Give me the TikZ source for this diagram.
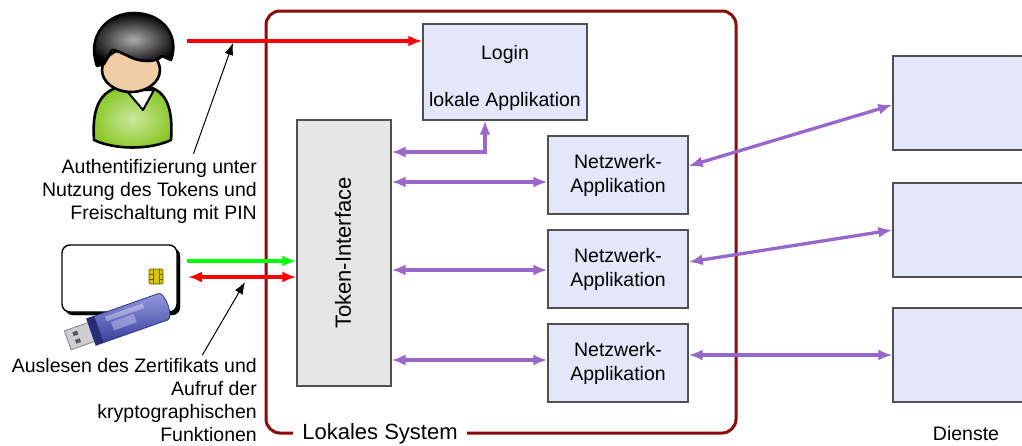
\documentclass[tikz,border=0pt]{standalone}
\usepackage{fontspec}
\setmainfont{Liberation Sans}
\usetikzlibrary{arrows.meta,calc}
\definecolor{framered}{RGB}{140,10,10}
\definecolor{pur}{RGB}{153,102,204}
\definecolor{lav}{RGB}{230,230,250}
\definecolor{tokgray}{RGB}{230,230,230}
\definecolor{edgegray}{RGB}{80,80,80}
\definecolor{skin}{RGB}{240,205,165}
\definecolor{shirt}{RGB}{140,200,40}
\definecolor{chipgold}{RGB}{215,195,0}
\definecolor{chipedge}{RGB}{110,95,0}
\definecolor{usbblue}{RGB}{65,75,195}
\definecolor{metal}{RGB}{205,205,210}

\begin{document}
\begin{tikzpicture}[x=1pt,y=-1pt,
  txt/.style={font=\fontsize{19.5}{23}\selectfont, inner sep=1pt},
  bigtxt/.style={font=\fontsize{22}{24}\selectfont, inner sep=1pt},
  appbox/.style={draw=edgegray, line width=1.3pt, fill=lav, inner sep=0pt},
  tokbox/.style={draw=edgegray, line width=1.3pt, fill=tokgray, inner sep=0pt},
  netbox/.style={appbox, minimum width=140pt, minimum height=78pt,
    font=\fontsize{19.5}{24}\selectfont, align=center},
  dienstbox/.style={appbox, minimum width=146pt, minimum height=94pt},
  purarrow/.style={draw=pur, line width=3.3pt, {Latex[length=14pt,width=11pt]}-{Latex[length=14pt,width=11pt]}},
  redarrow/.style={draw=red, line width=3.5pt, -{Latex[length=14pt,width=11pt]}},
  redboth/.style={draw=red, line width=3.5pt, {Latex[length=14pt,width=11pt]}-{Latex[length=14pt,width=11pt]}},
  greenarrow/.style={draw=green, line width=3.5pt, -{Latex[length=14pt,width=11pt]}},
  notearrow/.style={draw=black, line width=1pt, -{Latex[length=12pt,width=9pt]}},
  outline/.style={draw=black, line width=2.6pt, line join=round}
]
\useasboundingbox (0,0) rectangle (1022,445);
\clip (0,0) rectangle (1022,445);

% local system frame
\node[draw=framered, line width=3pt, rounded corners=14pt,
      minimum width=470pt, minimum height=422pt, inner sep=0pt] (lokal) at (501,222) {};
\node[bigtxt, fill=white, inner xsep=9pt, inner ysep=1pt] (lokaltitle) at (380,434) {Lokales System};

% applications
\node[appbox, minimum width=164pt, minimum height=96pt] (login) at (505,72) {};
\node[txt] (logintxt) at (505,54) {Login};
\node[txt] (lokapp) at (505,101) {lokale Applikation};

\node[tokbox, minimum width=94pt, minimum height=266pt] (tok) at (344,253) {};
\node[rotate=90, bigtxt] (toktxt) at (343,253) {Token-Interface};

\node[netbox] (n1) at (618,175) {Netzwerk-\\Applikation};
\node[netbox] (n2) at (618,269) {Netzwerk-\\Applikation};
\node[netbox] (n3) at (618,363) {Netzwerk-\\Applikation};

% services
\node[dienstbox] (d1) at (966,103) {};
\node[dienstbox] (d2) at (966,230) {};
\node[dienstbox] (d3) at (966,355) {};
\node[txt] (dienste) at (966,434) {Dienste};

% purple connections
\coordinate (lg) at ([xshift=-20pt]login.south);
\coordinate (tk) at ([yshift=101pt]tok.east);
\draw[purarrow] (tk) -| (lg);
\coordinate (n1a) at ([yshift=-7pt]n1.west);
\coordinate (n2a) at ([yshift=-1pt]n2.west);
\coordinate (n3a) at ([yshift=3pt]n3.west);
\draw[purarrow] (tok.east |- n1a) -- (n1a);
\draw[purarrow] (tok.east |- n2a) -- (n2a);
\draw[purarrow] (tok.east |- n3a) -- (n3a);
\draw[purarrow] ([yshift=9pt]n1.east) -- ([yshift=-2pt]d1.west);
\draw[purarrow] ([yshift=7pt]n2.east) -- (d2.west);
\draw[purarrow] ([yshift=8pt]n3.east) -- (d3.west);

% smart card
\draw[fill=black, rounded corners=8pt] (65,248) rectangle (180,315);
\draw[fill=white, line width=1.4pt, rounded corners=8pt] (62,245) rectangle (177,312);
\draw[fill=chipgold, draw=chipedge, line width=0.8pt, rounded corners=1.5pt] (149,269) rectangle (163,284);
\draw[chipedge, line width=0.6pt] (149,274) -- (153,274) (149,279) -- (153,279)
  (159,274) -- (163,274) (159,279) -- (163,279) (153,269) -- (153,284) (159,269) -- (159,284);

% usb token
\begin{scope}[shift={(80,336)}, rotate=19.4]
  \draw[fill=metal, draw=gray, line width=0.8pt] (-13,-10) rectangle (14,10);
  \fill[gray!70!black] (-6,-6) rectangle (-1,-2);
  \fill[gray!70!black] (-6,2) rectangle (-1,6);
  \shadedraw[top color=usbblue!55!white, bottom color=usbblue!80!black, draw=usbblue!70!black,
     line width=0.8pt] (12,-14) -- (88,-14) .. controls (95,-14) and (95,14) .. (88,14) -- (12,14) -- cycle;
  \fill[usbblue!60!black] (12,-14) rectangle (20,14);
  \fill[white, opacity=0.35] (30,-10) rectangle (70,-5);
  \fill[usbblue!40!white, opacity=0.6] (34,-3) rectangle (58,6);
\end{scope}

% person
\shadedraw[outline, inner color=shirt!45!white, outer color=shirt]
  (94,140) .. controls (92,112) and (98,94) .. (116,88) -- (152,88)
  .. controls (168,94) and (173,112) .. (171,140)
  .. controls (150,150) and (115,150) .. (94,140) -- cycle;
\filldraw[fill=white, draw=black, line width=2pt, line join=round] (126,90) -- (143,110) -- (154,90) -- cycle;
\filldraw[outline, fill=skin] (131,70) ellipse [x radius=29, y radius=22];
\shadedraw[outline, inner color=gray!65!white, outer color=black]
  (97,66) .. controls (86,35) and (108,13) .. (134,13)
  .. controls (162,13) and (180,35) .. (171,60)
  -- (162,56) .. controls (156,63) and (140,62) .. (130,57)
  .. controls (120,52) and (115,50) .. (112,50) -- (104,64) -- cycle;

% token and login arrows
\coordinate (pers) at (187,41);
\draw[redarrow] (pers) -- (pers -| login.west);
\coordinate (cardg) at (187,261);
\draw[greenarrow] (cardg) -- (cardg -| tok.west);
\coordinate (cardr) at (188,277);
\draw[redboth] (cardr) -- (cardr -| tok.west);

% annotations
\node[txt, align=right, anchor=east] (auth) at (258,191)
  {Authentifizierung unter\\Nutzung des Tokens und\\Freischaltung mit PIN};
\node[txt, align=right, anchor=east] (ausl) at (258,400)
  {Auslesen des Zertifikats und\\Aufruf der\\kryptographischen\\Funktionen};
\coordinate (tipa) at (233,43);
\coordinate (tipb) at (245,282);
\draw[notearrow] ([xshift=44pt,yshift=4pt]auth.north) -- (tipa);
\draw[notearrow] ([xshift=68pt,yshift=2pt]ausl.north) -- (tipb);
\end{tikzpicture}
\end{document}
